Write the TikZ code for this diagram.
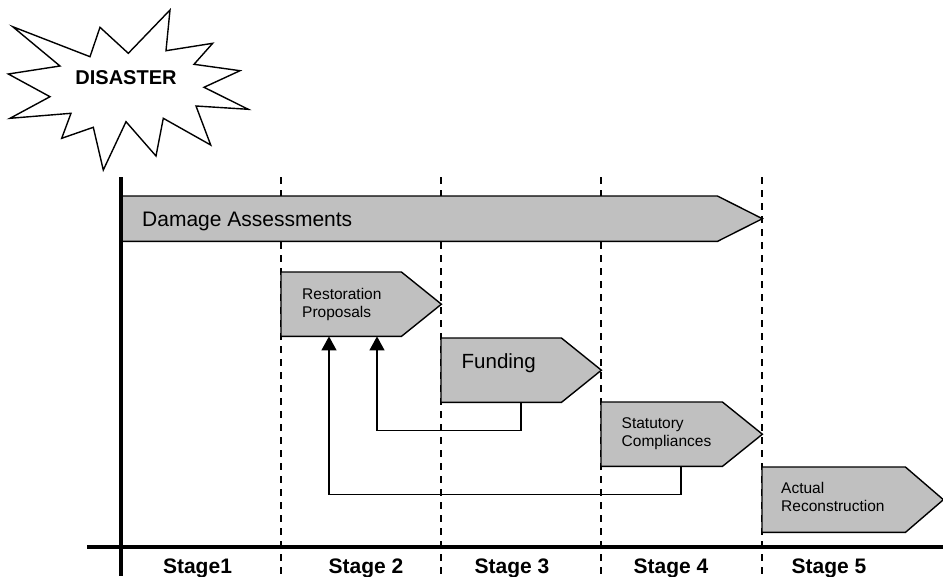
\documentclass[tikz,border=0pt]{standalone}
\usepackage{fontspec}
\setmainfont{Liberation Sans}
\usetikzlibrary{arrows.meta,calc}
\tikzset{
  stagebox/.style={draw=none,inner sep=0pt,minimum width=#1,anchor=north west},
  boxfill/.style={draw=black,fill=boxgray,line width=1.4pt,line join=miter},
  bigtext/.style={inner sep=0pt,anchor=base west,font=\fontsize{21}{24}\selectfont},
  smalltext/.style={inner sep=0pt,anchor=base west,align=left,font=\fontsize{15.5}{18}\selectfont},
  stagelabel/.style={inner sep=0pt,anchor=base,font=\fontsize{21}{24}\selectfont\bfseries},
  stageline/.style={line width=1.3pt,dash pattern=on 7pt off 6pt},
  axis/.style={line width=3.2pt},
  feedback/.style={line width=1.3pt,-{Triangle[width=15pt,length=14pt]}},
}
\definecolor{boxgray}{RGB}{192,192,192}
\begin{document}
\begin{tikzpicture}[x=1pt,y=-1pt]
\useasboundingbox (0,0) rectangle (943,576);
% stage separators
\foreach \xx/\nm in {281/s1,441/s2,601/s3,762/s4}{
  \coordinate (\nm top) at (\xx,177);
  \coordinate (\nm bot) at (\xx,576);
  \draw[stageline] (\nm top) -- (\nm bot);
}
% box bodies (invisible rectangles, shoulder to left edge)
\node[stagebox=596pt,minimum height=45pt] (da) at (121,196) {};
\node[stagebox=120pt,minimum height=64pt] (rp) at (281,272) {};
\node[stagebox=120pt,minimum height=64pt] (fu) at (441,338) {};
\node[stagebox=121pt,minimum height=64pt] (sc) at (601,402) {};
\node[stagebox=143pt,minimum height=65pt] (ar) at (762,467) {};
% arrow-shaped outlines
\draw[boxfill] (da.north west) -- (da.north east) -- ($(da.east)+(45,0)$) -- (da.south east) -- (da.south west) -- cycle;
\draw[boxfill] (rp.north west) -- (rp.north east) -- ($(rp.east)+(40,0)$) -- (rp.south east) -- (rp.south west) -- cycle;
\draw[boxfill] (fu.north west) -- (fu.north east) -- ($(fu.east)+(40,0)$) -- (fu.south east) -- (fu.south west) -- cycle;
\draw[boxfill] (sc.north west) -- (sc.north east) -- ($(sc.east)+(40,0)$) -- (sc.south east) -- (sc.south west) -- cycle;
\draw[boxfill] (ar.north west) -- (ar.north east) -- ($(ar.east)+(38,0)$) -- (ar.south east) -- (ar.south west) -- cycle;
% texts
\node[bigtext] (datx) at (142,226.7) {Damage Assessments};
\node[bigtext,font=\fontsize{20.5}{24}\selectfont] (futx) at (461.5,368.5) {Funding};
\node[smalltext] (rptx) at (302,317) {Restoration\\Proposals};
\node[smalltext] (sctx) at (621.5,446.5) {Statutory\\Compliances};
\node[smalltext] (artx) at (781,511.5) {Actual\\Reconstruction};
% feedback connectors
\draw[feedback] ([xshift=80pt]fu.south west) -- ++(0,28) -| ([xshift=96pt]rp.south west);
\draw[feedback] ([xshift=80pt]sc.south west) -- ++(0,28) -| ([xshift=48pt]rp.south west);
% axes
\coordinate (vtop) at (121,177);
\coordinate (vbot) at (121,576);
\coordinate (hl) at (87,547);
\coordinate (hr) at (943,547);
\draw[axis] (vtop) -- (vbot);
\draw[axis,line width=3.5pt] (hl) -- (hr);
% stage labels
\node[stagelabel] (st1) at (197.5,573) {Stage1};
\node[stagelabel] (st2) at (366,573) {Stage 2};
\node[stagelabel] (st3) at (512,573) {Stage 3};
\node[stagelabel] (st4) at (671,573) {Stage 4};
\node[stagelabel] (st5) at (829,573) {Stage 5};
% disaster starburst
\draw[fill=white,line width=1.4pt,line join=miter]
  (12.7,26.7) -- (90,56.7) -- (100,27.3) -- (128.3,53.3) -- (170,10) -- (166,50.7)
  -- (212.7,43.3) -- (194,64.3) -- (240,70.7) -- (204,87.3) -- (248.3,109.3)
  -- (196,106) -- (210.7,145) -- (163.3,118.3) -- (156,156) -- (126,121.7)
  -- (103.3,170) -- (93.3,127.3) -- (61.7,138.3) -- (71,113.3) -- (10,118.3)
  -- (50,96.7) -- (8.3,74) -- (60,66) -- cycle;
\node[inner sep=0pt,anchor=base,font=\fontsize{20}{24}\selectfont\bfseries] (dis) at (126,84) {DISASTER};
\end{tikzpicture}
\end{document}
